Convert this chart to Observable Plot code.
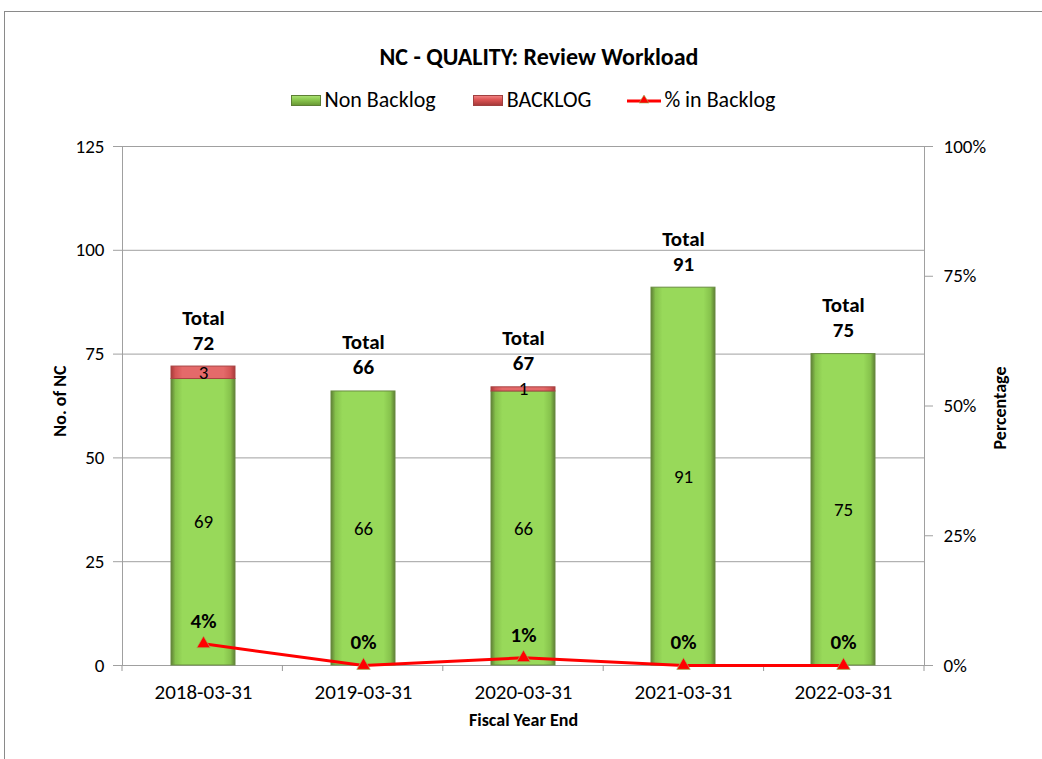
<!DOCTYPE html>
<html>
<head>
<meta charset="utf-8">
<script src="https://cdn.jsdelivr.net/npm/d3@7"></script>
<script src="https://cdn.jsdelivr.net/npm/@observablehq/plot@0.6"></script>
<style>
  body { margin: 0; background: #fff; font-family: Carlito, Lato, "Open Sans", sans-serif; }
  #frame { position: absolute; left: 4px; top: 11px; width: 1100px; height: 800px; border-left: 1px solid #8a8a8a; border-top: 1px solid #8a8a8a; }
  #wrap { position: relative; width: 1042px; height: 759px; overflow: hidden; }
  #title { position: absolute; top: 42px; left: 0; width: 1078px; text-align: center; font-weight: bold; font-size: 24px; line-height: 30px; color: #000; }
  #legend { position: absolute; top: 87px; left: 0; width: 1066px; display: flex; justify-content: center; align-items: center; font-size: 22px; line-height: 26px; color: #000; }
  .item { display: flex; align-items: center; }
  .sw { width: 28px; height: 9px; margin-right: 4px; }
  .green { background: linear-gradient(to bottom, #a8e070 0%, #8cc850 40%, #6a9a35 100%); border: 1px solid #5d7f35; }
  .red { background: linear-gradient(to bottom, #f08080 0%, #dd5555 40%, #a83a3a 100%); border: 1px solid #a04040; }
  .ln { width: 34px; height: 14px; margin-right: 3px; }
  #chart { position: absolute; top: 120px; left: 0; }
</style>
</head>
<body>
<div id="wrap">
  <div id="frame"></div>
  <div id="title">NC - QUALITY: Review Workload</div>
  <div id="legend"></div>
  <div id="chart"></div>
</div>
<script>
const categories = ["2018-03-31", "2019-03-31", "2020-03-31", "2021-03-31", "2022-03-31"];
const nonBacklog = [69, 66, 66, 91, 75];
const backlog = [3, 0, 1, 0, 0];
const pctInBacklog = [4.17, 0, 1.49, 0, 0];
const leftTicks = [0, 25, 50, 75, 100, 125];
const rightTicks = [0, 25, 50, 75, 100];
const seriesNames = ["Non Backlog", "BACKLOG", "% in Backlog"];

const yMax = 125;
const pctToY = p => p / 100 * yMax;

const rows = categories.map((c, i) => ({
  cat: c,
  non: nonBacklog[i],
  back: backlog[i],
  total: nonBacklog[i] + backlog[i],
  pct: pctInBacklog[i]
}));

// Legend
const legend = document.getElementById("legend");
legend.innerHTML =
  `<div class="item"><div class="sw green"></div><span>${seriesNames[0]}</span></div>` +
  `<div class="item" style="margin-left:37px"><div class="sw red"></div><span>${seriesNames[1]}</span></div>` +
  `<div class="item" style="margin-left:36px"><svg class="ln" viewBox="0 0 34 14"><line x1="0" y1="8" x2="34" y2="8" stroke="#ff0000" stroke-width="3"/><path d="M17 2 L22 10 L12 10 Z" fill="#ff0000" stroke="#9bbb59" stroke-width="0.6"/></svg><span>${seriesNames[2]}</span></div>`;

const font = "Carlito, Lato, 'Open Sans', sans-serif";

const boundaryTicks = (index, scales, values, dimensions) => {
  const {marginLeft, marginRight, marginBottom, width, height} = dimensions;
  const n = categories.length;
  const step = (width - marginLeft - marginRight) / n;
  const g = d3.create("svg:g");
  for (let i = 0; i <= n; i++) {
    const x = marginLeft + i * step;
    g.append("line").attr("x1", x).attr("x2", x)
      .attr("y1", height - marginBottom).attr("y2", height - marginBottom + 6)
      .attr("stroke", "#9a9a9a").attr("stroke-width", 1);
  }
  return g.node();
};

const chart = Plot.plot({
  width: 1042,
  height: 639,
  marginLeft: 122,
  marginRight: 118,
  marginTop: 26,
  marginBottom: 94,
  style: {fontFamily: font, background: "transparent", overflow: "visible"},
  x: {domain: categories, paddingInner: 0.6, paddingOuter: 0.3},
  y: {domain: [0, yMax]},
  marks: [
    Plot.ruleY(leftTicks, {stroke: "#a0a0a0", strokeWidth: 1}),
    Plot.frame({anchor: "left", stroke: "#a0a0a0"}),
    Plot.frame({anchor: "right", stroke: "#a0a0a0"}),
    boundaryTicks,
    Plot.barY(rows, {x: "cat", y1: 0, y2: "non", fill: "url(#gGreen)", stroke: "#6a8c42", strokeWidth: 1}),
    Plot.barY(rows.filter(d => d.back > 0), {x: "cat", y1: "non", y2: "total", fill: "url(#gRed)", stroke: "#a84444", strokeWidth: 1}),
    Plot.text(rows, {x: "cat", y: d => d.non / 2, text: d => String(d.non), fontSize: 19, fill: "#000"}),
    Plot.text(rows.filter(d => d.back > 0), {x: "cat", y: d => d.non + d.back / 2, text: d => String(d.back), fontSize: 19, fill: "#000"}),
    Plot.text(rows, {x: "cat", y: "total", text: d => "Total\n" + d.total, lineAnchor: "bottom", lineHeight: 1.19, dy: -17, fontSize: 21, fontWeight: "bold", fill: "#000"}),
    Plot.line(rows, {x: "cat", y: d => pctToY(d.pct), stroke: "#ff0000", strokeWidth: 3}),
    Plot.dot(rows, {x: "cat", y: d => pctToY(d.pct), symbol: "triangle", r: 5, fill: "#ff0000", stroke: "#9bbb59", strokeWidth: 0.7}),
    Plot.text(rows, {x: "cat", y: d => pctToY(d.pct), text: d => Math.round(d.pct) + "%", dy: -23, fontSize: 21, fontWeight: "bold", fill: "#000"}),
    Plot.axisY({ticks: leftTicks, tickSize: 9, tickPadding: 9, stroke: "#a0a0a0", fontSize: 19, color: "#000", label: null}),
    Plot.axisY({anchor: "right", ticks: rightTicks.map(pctToY), tickFormat: v => Math.round(v / yMax * 100) + "%", tickSize: 8, tickPadding: 11, fontSize: 19, label: null}),
    Plot.axisX({tickSize: 0, tickPadding: 19, fontSize: 21, label: null}),
    Plot.text(["No. of NC"], {frameAnchor: "left", textAnchor: "middle", text: d => d, rotate: -90, dx: -62, dy: -5, fontSize: 18, fontWeight: "bold", fill: "#000"}),
    Plot.text(["Percentage"], {frameAnchor: "right", textAnchor: "middle", text: d => d, rotate: -90, dx: 76, dy: 2, fontSize: 18, fontWeight: "bold", fill: "#000"}),
    Plot.text(["Fiscal Year End"], {frameAnchor: "bottom", text: d => d, dy: 60, fontSize: 18, fontWeight: "bold", fill: "#000"})
  ]
});

const svg = d3.select(chart);
const defs = svg.insert("defs", ":first-child");
function grad(id, stops) {
  const g = defs.append("linearGradient").attr("id", id).attr("x1", "0").attr("x2", "1").attr("y1", "0").attr("y2", "0");
  stops.forEach(([o, c]) => g.append("stop").attr("offset", o).attr("stop-color", c));
}
grad("gGreen", [[0, "#5e7f35"], [0.07, "#86c24c"], [0.18, "#98d95a"], [0.82, "#98d95a"], [0.93, "#86c24c"], [1, "#5e7f35"]]);
grad("gRed", [[0, "#a83a3a"], [0.07, "#d45555"], [0.18, "#e46a6a"], [0.82, "#e46a6a"], [0.93, "#d45555"], [1, "#a83a3a"]]);
svg.selectAll("[aria-label='y-axis tick'] *").attr("stroke", "#a0a0a0");
document.getElementById("chart").appendChild(chart);
</script>
</body>
</html>
